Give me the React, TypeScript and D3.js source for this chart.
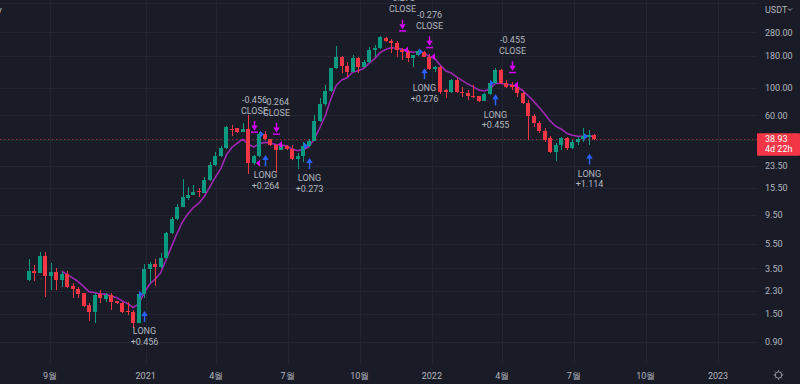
import React from 'react';
import * as d3 from 'd3';

// ---- data (weekly candles) ----
const opens = [2.83,3.36,3.24,4.42,3.07,3.27,2.83,3.15,2.53,2.41,2.21,1.78,1.57,2.17,2.0,2.14,1.91,1.86,1.59,1.556,1.28,2.17,3.45,3.81,3.62,4.26,6.73,8.73,11.02,13.03,13.78,14.75,14.3,18.11,23.9,28.0,32.6,46.3,47.1,44.2,46.6,24.7,28.2,42.3,38.5,34.9,31.8,34.0,32.0,26.5,28.2,34.0,37.6,54.5,74.0,94.8,143.6,176.1,150,134.8,172.8,147.9,161.4,200,210,250.4,240,229.6,201.7,195.3,172.8,183.8,195.3,178,143,148,96.5,92.5,115.5,93,91.3,86.3,85.5,78.7,89.2,108.8,139.2,108.8,105.4,100.7,90.2,75.8,59.3,52.3,44.9,39.1,30.5,34.7,39.1,32.6,36.8,38.5,40.5,41.5];
const highs = [4.15,3.74,4.71,4.71,3.9,3.52,3.27,3.36,2.66,2.5,2.21,1.84,2.21,2.35,2.21,2.21,1.93,1.89,1.89,1.62,2.28,3.81,3.95,4.15,4.64,6.94,9.06,11.52,18.35,15.97,16.5,15.5,19.26,25.4,30.5,34.0,49.2,50.1,47.5,52.5,60.4,28.8,44.2,44.9,39.0,35.5,34.4,34.4,34.4,29.7,36.8,38.7,60.4,82.3,105.4,145.3,217,180,161,183.8,176,166,214.4,222,261.4,256,246,240,208,201.7,185,203,199,187,151,151,97,118,120,102,96,105,86,90.5,111,144.4,141,115.5,112,105.4,92.5,80,62,53.8,47.1,40.9,35.6,39.8,40.0,38.0,40.3,47.1,45.7,42.5];
const lows = [2.78,2.75,3.21,2.07,2.35,2.35,2.5,2.42,2.01,2.01,1.72,1.32,1.28,1.84,1.89,1.62,1.82,1.53,1.48,1.16,1.27,2.03,2.68,2.53,3.55,4.17,6.6,8.6,10.9,12.48,13.6,13.13,14.15,17.9,23.6,27.8,32.3,40.9,43.6,44.0,20.3,23.8,27.8,38.2,34.2,20.6,31.5,31.5,26.1,22.2,25.4,33.5,37.3,53.5,72.0,92.0,141,132.3,122.9,133,130.9,146,158,178,205,234,189.6,178,167.6,162,147.9,181,177,140,135,89.8,82.3,91,90,84.8,79.7,82.3,76.5,78,88,107,107,99,96,84.8,74.5,38.0,48.6,43.0,36.8,30.0,25.9,31.4,31.4,32.4,34.7,36.8,34.7,38.3];
const closes = [3.36,3.21,4.42,3.05,3.27,2.83,3.15,2.5,2.38,2.18,1.76,1.57,2.14,2.04,2.14,1.89,1.84,1.556,1.56,1.28,2.17,3.45,3.81,3.62,4.26,6.73,8.73,11.02,13.13,13.78,14.48,14.45,18.11,23.9,28.2,32.6,48.0,45.7,44.2,46.6,24.6,28.2,42.4,38.5,34.9,31.8,34.0,32.0,26.5,28.2,34.0,37.6,54.5,74.0,94.8,143.6,176.1,149.9,134.8,172.8,147.9,161.4,202.9,210,255.2,238.3,229.6,201.7,195.3,172.8,183.8,199,178,143,148,93.0,92.5,115.5,93,91.3,85.9,85.5,78.7,89.2,108.8,139.2,108.8,102.1,100.7,90.2,75.8,59.3,52.3,44.9,38.0,30.5,34.7,39.1,32.6,36.8,38.5,40.9,41.5,38.93];
const firstBarTime = Date.UTC(2020, 7, 5);
const WEEK_MS = 7 * 24 * 3600 * 1000;

const priceTicks = [280, 180, 100, 60, 23.5, 15.5, 9.5, 5.5, 3.5, 2.3, 1.5, 0.9];
const gridPrices = [480, 280, 180, 100, 60, 38, 23.5, 15.5, 9.5, 5.5, 3.5, 2.3, 1.5, 0.9];
const timeTicks = [
  Date.UTC(2020, 8, 1), Date.UTC(2021, 0, 1), Date.UTC(2021, 3, 1), Date.UTC(2021, 6, 1),
  Date.UTC(2021, 9, 1), Date.UTC(2022, 0, 1), Date.UTC(2022, 3, 1), Date.UTC(2022, 6, 1),
  Date.UTC(2022, 9, 1), Date.UTC(2023, 0, 1),
];

// strategy trades
const tradeBars = [21, 41, 43, 45, 51, 68, 72, 73, 85, 88, 102];
const tradeKinds = ['long', 'close', 'long', 'close', 'long', 'close', 'long', 'close', 'long', 'close', 'long'];
const tradeQty = ['+0.456', '-0.456', '+0.264', '-0.264', '+0.273', '-0.273', '+0.276', '-0.276', '+0.455', '-0.455', '+1.114'];
const tradeArrowLevels = [1.59, 43.3, 28.7, 41.7, 27.2, 283, 143.6, 208, 88.6, 130.9, 29.6];

const emaLength = 7;
const lastPrice = 38.93;
const countdown = '4d 22h';
const currency = 'USDT';

// ---- layout / style ----
const W = 800;
const H = 384;
const PLOT_R = 757;
const PLOT_B = 363;
const BG = '#191c27';
const GRID = '#232632';
const TEXT = '#b2b5be';
const UP = '#089981';
const DOWN = '#f23645';
const MA = '#9c27b0';
const BLUE = '#2962ff';
const MAGENTA = '#d500f9';
const FONT = 'Roboto, "Noto Sans", sans-serif';

export default function App() {
  const x = d3.scaleUtc().domain([Date.UTC(2020, 8, 1), Date.UTC(2023, 0, 1)]).range([50, 718]);
  const y = d3.scaleLog().domain([0.9, 280]).range([341.7, 32.3]);

  const bars = closes.map((c, i) => ({
    t: firstBarTime + i * WEEK_MS,
    o: opens[i], h: highs[i], l: lows[i], c,
  }));
  const bx = (i: number) => x(bars[i].t);

  // EMA of closes
  const ema: (number | null)[] = [];
  let prev = 0;
  const k = 2 / (emaLength + 1);
  closes.forEach((c, i) => {
    if (i < emaLength - 1) { ema.push(null); return; }
    if (i === emaLength - 1) {
      prev = d3.mean(closes.slice(0, emaLength)) as number;
    } else {
      prev = prev + k * (c - prev);
    }
    ema.push(prev);
  });
  const emaPts = ema.map((v, i) => [i, v] as [number, number | null]).filter((d) => d[1] !== null) as [number, number][];
  const emaPath = d3.line<[number, number]>().x((d) => bx(d[0])).y((d) => y(d[1]))(emaPts) || '';

  const fmtTime = (t: number) => {
    const d = new Date(t);
    return d.getUTCMonth() === 0 ? String(d.getUTCFullYear()) : `${d.getUTCMonth() + 1}월`;
  };

  const py = y(lastPrice);

  return (
    <svg width={W} height={H} style={{ position: 'absolute', left: 0, top: 0, display: 'block' }} fontFamily={FONT}>
      <defs>
        <clipPath id="plot"><rect x={0} y={0} width={PLOT_R} height={PLOT_B} /></clipPath>
      </defs>
      <rect x={0} y={0} width={W} height={H} fill={BG} />

      <g shapeRendering="crispEdges">
        {timeTicks.map((t) => (
          <line key={t} x1={Math.round(x(t)) + 0.5} x2={Math.round(x(t)) + 0.5} y1={0} y2={PLOT_B} stroke={GRID} />
        ))}
        {gridPrices.map((p) => (
          <line key={p} x1={0} x2={PLOT_R} y1={Math.round(y(p)) + 0.5} y2={Math.round(y(p)) + 0.5} stroke={GRID} />
        ))}
      </g>

      <g clipPath="url(#plot)">
        <line x1={0} x2={PLOT_R} y1={Math.round(py) + 0.5} y2={Math.round(py) + 0.5} stroke={DOWN} strokeOpacity={0.55} strokeDasharray="1.5,2.5" />

        <path d={emaPath} fill="none" stroke={MA} strokeWidth={1.6} strokeLinejoin="round" />

        <g shapeRendering="crispEdges">
          {bars.map((b, i) => {
            const cx = Math.round(bx(i));
            const col = b.c >= b.o ? UP : DOWN;
            const top = y(Math.max(b.o, b.c));
            const bot = y(Math.min(b.o, b.c));
            return (
              <g key={i} fill={col}>
                <rect x={cx} y={y(b.h)} width={1} height={Math.max(1, y(b.l) - y(b.h))} />
                <rect x={cx - 2} y={top} width={4} height={Math.max(1, bot - top)} />
              </g>
            );
          })}
        </g>

        {tradeBars.map((b, j) => {
          const cx = Math.round(bx(b)) + 0.5;
          const fy = y(opens[b]);
          const ty = y(tradeArrowLevels[j]);
          if (tradeKinds[j] === 'long') {
            return (
              <g key={j}>
                <polygon points={`${cx - 5.5},${fy - 3.5} ${cx - 1.5},${fy} ${cx - 5.5},${fy + 3.5}`} fill={BLUE} />
                <polygon points={`${cx},${ty} ${cx - 3.2},${ty + 5} ${cx + 3.2},${ty + 5}`} fill={BLUE} />
                <rect x={cx - 0.75} y={ty + 4} width={1.5} height={7} fill={BLUE} />
                <text x={cx} y={ty + 23.2} textAnchor="middle" fontSize={9} fill={TEXT}>LONG</text>
                <text x={cx} y={ty + 33.7} textAnchor="middle" fontSize={9} fill={TEXT}>{tradeQty[j]}</text>
              </g>
            );
          }
          return (
            <g key={j}>
              <polygon points={`${cx + 5.5},${fy - 3.5} ${cx + 1.5},${fy} ${cx + 5.5},${fy + 3.5}`} fill={MAGENTA} />
              <rect x={cx - 3.5} y={ty - 1.5} width={7} height={1.5} fill={MAGENTA} />
              <polygon points={`${cx},${ty - 2.5} ${cx - 3.2},${ty - 7.5} ${cx + 3.2},${ty - 7.5}`} fill={MAGENTA} />
              <rect x={cx - 0.75} y={ty - 12} width={1.5} height={5} fill={MAGENTA} />
              <text x={cx} y={ty - 19.3} textAnchor="middle" fontSize={9} fill={TEXT}>CLOSE</text>
              <text x={cx} y={ty - 30.3} textAnchor="middle" fontSize={9} fill={TEXT}>{tradeQty[j]}</text>
            </g>
          );
        })}
      </g>

      {/* time axis */}
      {timeTicks.map((t) => (
        <text key={t} x={x(t)} y={379} textAnchor="middle" fontSize={9} fill={TEXT}>{fmtTime(t)}</text>
      ))}

      {/* price axis */}
      {priceTicks.map((p) => (
        <text key={p} x={765} y={y(p) + 3.2} fontSize={9} fill={TEXT}>{p.toFixed(2)}</text>
      ))}
      <rect x={PLOT_R} y={py - 5.3} width={W - PLOT_R} height={22.5} fill={DOWN} rx={1} />
      <text x={765} y={py + 3.4} fontSize={9} fill="#ffffff">{lastPrice.toFixed(2)}</text>
      <text x={765} y={py + 13.5} fontSize={9} fill="#ffffff">{countdown}</text>

      <text x={765} y={12.5} fontSize={9} fill={TEXT}>{currency}</text>
      <path d="M788,8.5 L790,10.5 L792,8.5" fill="none" stroke={TEXT} strokeWidth={0.9} />

      <text x={-3} y={14} fontSize={10} fill={TEXT}>y</text>

      {/* settings gear */}
      <g transform="translate(778.5,375)" stroke="#9598a1" fill="none" strokeWidth={1}>
        <circle r={3.2} />
        {d3.range(8).map((i) => {
          const a = (i * Math.PI) / 4;
          return <line key={i} x1={Math.cos(a) * 3.2} y1={Math.sin(a) * 3.2} x2={Math.cos(a) * 4.8} y2={Math.sin(a) * 4.8} />;
        })}
      </g>
    </svg>
  );
}
